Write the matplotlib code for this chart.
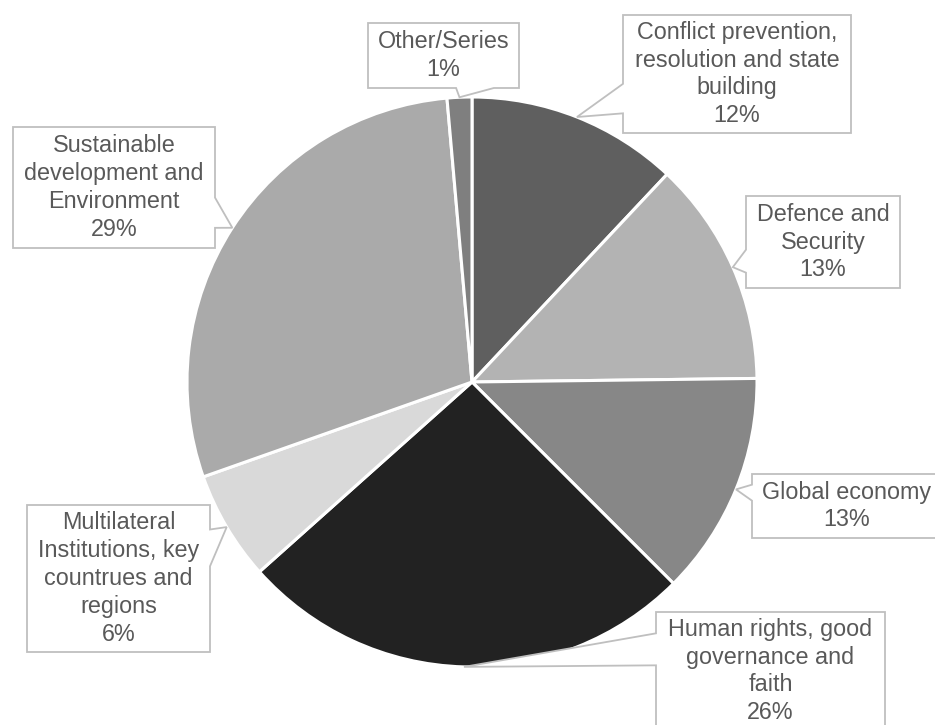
import matplotlib
matplotlib.use("Agg")
import matplotlib.pyplot as plt
from matplotlib.patches import Polygon
import numpy as np

# ---- data ----
categories = [
    "Conflict prevention,\nresolution and state\nbuilding",
    "Defence and\nSecurity",
    "Global economy",
    "Human rights, good\ngovernance and\nfaith",
    "Multilateral\nInstitutions, key\ncountrues and\nregions",
    "Sustainable\ndevelopment and\nEnvironment",
    "Other/Series",
]
values = [12.0, 12.8, 12.7, 25.9, 6.2, 29.0, 1.4]
colors = ["#5f5f5f", "#b3b3b3", "#878787", "#222222", "#d9d9d9", "#aaaaaa", "#7f7f7f"]

# ---- layout (pixels, y down) ----
W, H = 935, 725
pie_center_px = (472, 382)
pie_radius = 285
# label boxes: left, top, right, bottom
boxes = [
    (623, 15, 851, 133),
    (746, 196, 900, 288),
    (752, 474, 942, 538),
    (656, 612, 885, 740),
    (27, 505, 210, 652),
    (13, 127, 215, 248),
    (368, 23, 519, 88),
]
# small vertical nudges of text inside box (pixels, negative = up)
text_nudge = [0, 0, 0, -5, 0, 0, 0]

fig = plt.figure(figsize=(W / 100, H / 100), dpi=100)
ax = fig.add_axes([0, 0, 1, 1])

cx, cy = pie_center_px[0], H - pie_center_px[1]
wedges, _ = ax.pie(values, colors=colors, startangle=90, counterclock=False,
                   center=(cx, cy), radius=pie_radius,
                   wedgeprops=dict(edgecolor="white", linewidth=2.2))

ax.set_xlim(0, W)
ax.set_ylim(0, H)
ax.set_aspect("equal")
ax.axis("off")


def callout(box, tip):
    """Excel wedgeRectCallout geometry in pixel coords (y down)."""
    l, t, r, b = box
    w, h = r - l, b - t
    hc, vc = (l + r) / 2, (t + b) / 2
    tx, ty = tip
    dx, dy = tx - hc, ty - vc
    dq = dx * h / w
    if abs(dy) - abs(dq) > 0:
        xg1, xg2 = (7, 10) if dx > 0 else (2, 5)
        x1, x2 = l + w * xg1 / 12, l + w * xg2 / 12
        if dy > 0:
            pts = [(l, t), (r, t), (r, b), (x2, b), (tx, ty), (x1, b), (l, b)]
        else:
            pts = [(l, t), (x1, t), (tx, ty), (x2, t), (r, t), (r, b), (l, b)]
    else:
        yg1, yg2 = (7, 10) if dy > 0 else (2, 5)
        y1, y2 = t + h * yg1 / 12, t + h * yg2 / 12
        if dx > 0:
            pts = [(l, t), (r, t), (r, y1), (tx, ty), (r, y2), (r, b), (l, b)]
        else:
            pts = [(l, t), (r, t), (r, b), (l, b), (l, y2), (tx, ty), (l, y1)]
    return [(x, H - y) for x, y in pts]


for wdg, lab, val, box, nud in zip(wedges, categories, values, boxes, text_nudge):
    mid = np.deg2rad((wdg.theta1 + wdg.theta2) / 2)
    tip_px = (pie_center_px[0] + pie_radius * np.cos(mid),
              pie_center_px[1] - pie_radius * np.sin(mid))
    poly = Polygon(callout(box, tip_px), closed=True, facecolor="white",
                   edgecolor="#bfbfbf", linewidth=1.3, zorder=5)
    ax.add_patch(poly)
    l, t, r, b = box
    ax.text((l + r) / 2, H - ((t + b) / 2 + nud), f"{lab}\n{val:.0f}%",
            ha="center", va="center",
            multialignment="center", fontsize=16.8, color="#595959",
            family=["Liberation Sans", "DejaVu Sans"], linespacing=1.27, zorder=6)

fig.savefig("out.png", dpi=100)
